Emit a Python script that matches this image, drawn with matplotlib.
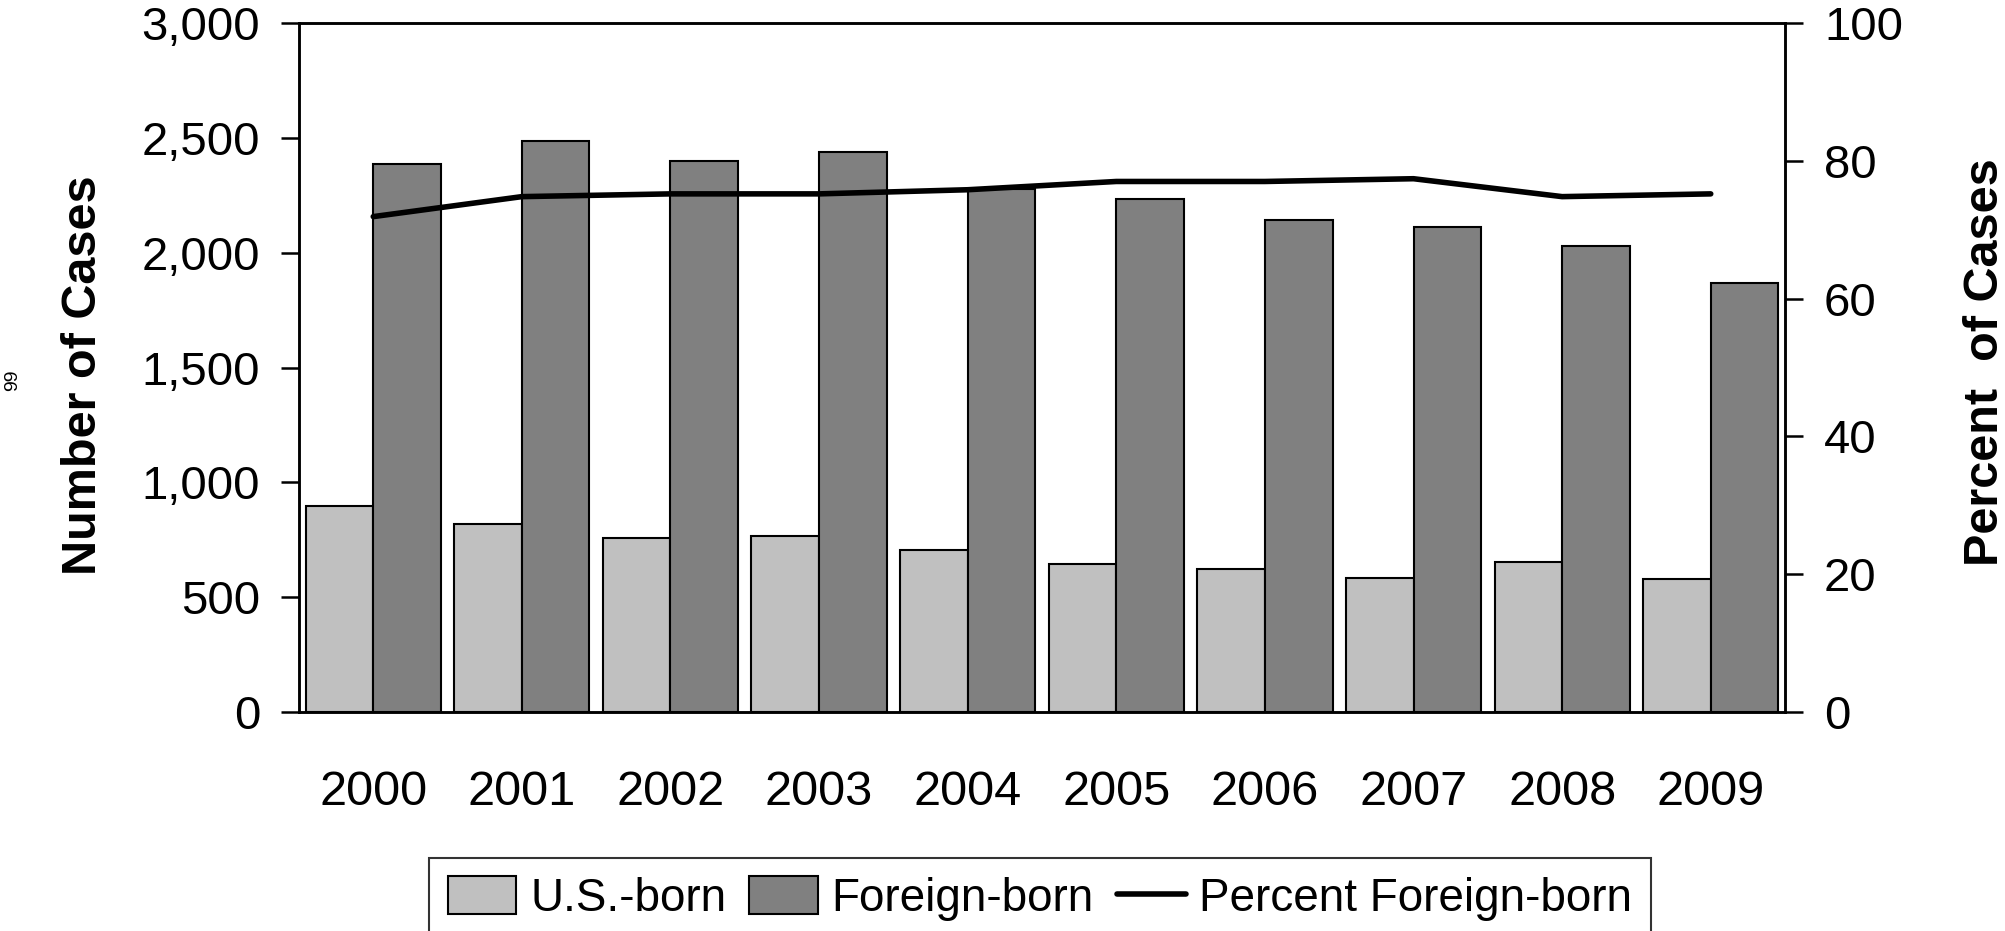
import matplotlib
matplotlib.use("Agg")
import matplotlib.pyplot as plt
from matplotlib import font_manager
import numpy as np

years = ["2000", "2001", "2002", "2003", "2004", "2005", "2006", "2007", "2008", "2009"]
us_born = [898, 818, 757, 767, 705, 645, 624, 584, 654, 581]
foreign_born = [2386, 2488, 2397, 2438, 2276, 2234, 2142, 2112, 2031, 1868]
pct_foreign = [71.9, 74.8, 75.2, 75.2, 75.8, 77.0, 77.0, 77.4, 74.8, 75.2]

left_ticks = [0, 500, 1000, 1500, 2000, 2500, 3000]
right_ticks = [0, 20, 40, 60, 80, 100]

names = {f.name for f in font_manager.fontManager.ttflist}
narrow = "Liberation Sans Narrow" if "Liberation Sans Narrow" in names else "Liberation Sans"
plt.rcParams["font.family"] = ["Liberation Sans", "DejaVu Sans"]

fig = plt.figure(figsize=(20.05, 9.31), dpi=100)
ax = fig.add_axes([0.1491, 0.2352, 0.8903 - 0.1491, 0.9753 - 0.2352])
ax2 = ax.twinx()

x = np.arange(len(years))
w = 0.455
ax.bar(x - w / 2, us_born, w, color="#c0c0c0", edgecolor="black", lw=1.5, label="U.S.-born")
ax.bar(x + w / 2, foreign_born, w, color="#808080", edgecolor="black", lw=1.5, label="Foreign-born")
ax2.plot(x, pct_foreign, color="black", lw=4, solid_capstyle="round", label="Percent Foreign-born")

ax.set_xlim(-0.5, len(years) - 0.5)
ax.set_ylim(0, 3000)
ax2.set_ylim(0, 100)
ax.set_yticks(left_ticks)
ax.set_yticklabels([f"{v:,}" for v in left_ticks])
ax2.set_yticks(right_ticks)
ax.set_xticks(x)
ax.set_xticklabels(years)

for a in (ax, ax2):
    for s in a.spines.values():
        s.set_linewidth(1.8)
ax.tick_params(axis="y", labelsize=34, length=13, width=1.8, pad=15)
ax2.tick_params(axis="y", labelsize=34, length=13, width=1.8, pad=15)
ax.tick_params(axis="x", labelsize=35, length=0, pad=42)

fig.text(84 / 2005, 1 - 375 / 931, "Number of Cases", rotation=90, ha="center", va="center",
         fontsize=35, fontweight="bold", family=narrow)
fig.text(1986 / 2005, 1 - 362 / 931, "Percent  of Cases", rotation=90, ha="center", va="center",
         fontsize=35, fontweight="bold", family=narrow)
fig.text(13 / 2005, 1 - 380 / 931, "99", rotation=90, ha="center", va="center", fontsize=14)

h1, l1 = ax.get_legend_handles_labels()
h2, l2 = ax2.get_legend_handles_labels()
leg = fig.legend(h1 + h2, l1 + l2, loc="upper center", bbox_to_anchor=(0.5187, 1 - 858 / 931),
                 ncol=3, frameon=True, fancybox=False, edgecolor="black", borderaxespad=0,
                 prop={"family": narrow, "size": 33}, handlelength=1.5, handleheight=0.9,
                 handletextpad=0.3, columnspacing=0.5, borderpad=0.4)
leg.get_frame().set_linewidth(1.5)

fig.savefig("out.png", dpi=100)
